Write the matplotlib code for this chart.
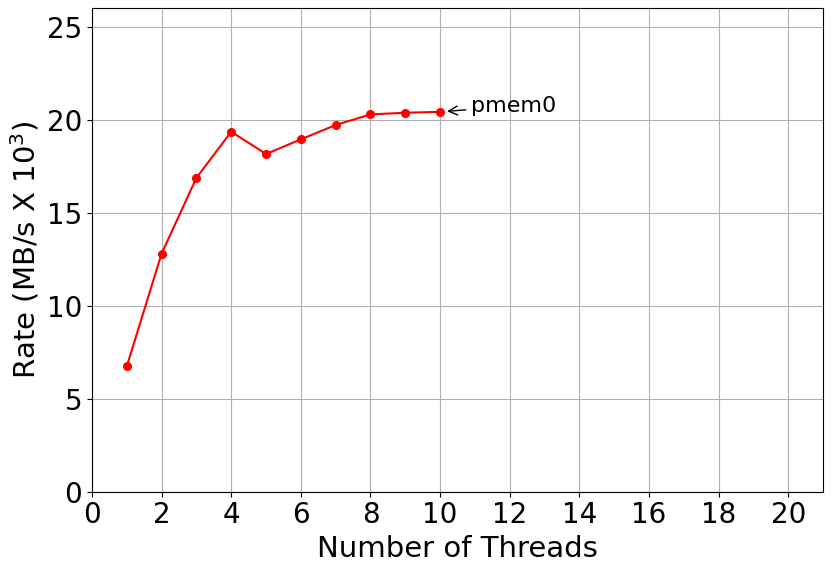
import matplotlib
matplotlib.use("Agg")
import matplotlib.pyplot as plt

threads = [1, 2, 3, 4, 5, 6, 7, 8, 9, 10]
rate = [6.74, 12.80, 16.87, 19.35, 18.15, 18.94, 19.71, 20.28, 20.37, 20.42]
label = "pmem0"

fig = plt.figure(figsize=(8.31, 5.73), dpi=100)
ax = fig.add_axes([92 / 831, 1 - 491.7 / 573, (823 - 92) / 831, (491.7 - 8) / 573])
ax.plot(threads, rate, color="red", marker="o", markersize=5.5, linewidth=1.5)
ax.annotate(label, xy=(threads[-1], rate[-1]), xytext=(10.9, rate[-1] - 0.02),
            fontsize=16, va="baseline",
            arrowprops=dict(arrowstyle="->", color="black", lw=1, shrinkB=5))
ax.set_xlim(0, 21)
ax.set_ylim(0, 26)
ax.set_xticks(range(0, 21, 2))
ax.set_yticks(range(0, 26, 5))
ax.grid(True, color="#b0b0b0", linewidth=0.8)
ax.tick_params(labelsize=20)
ax.set_xlabel("Number of Threads", fontsize=21)
ax.set_ylabel("Rate (MB/s X 10$^3$)", fontsize=21)
fig.savefig("out.png", dpi=100)
